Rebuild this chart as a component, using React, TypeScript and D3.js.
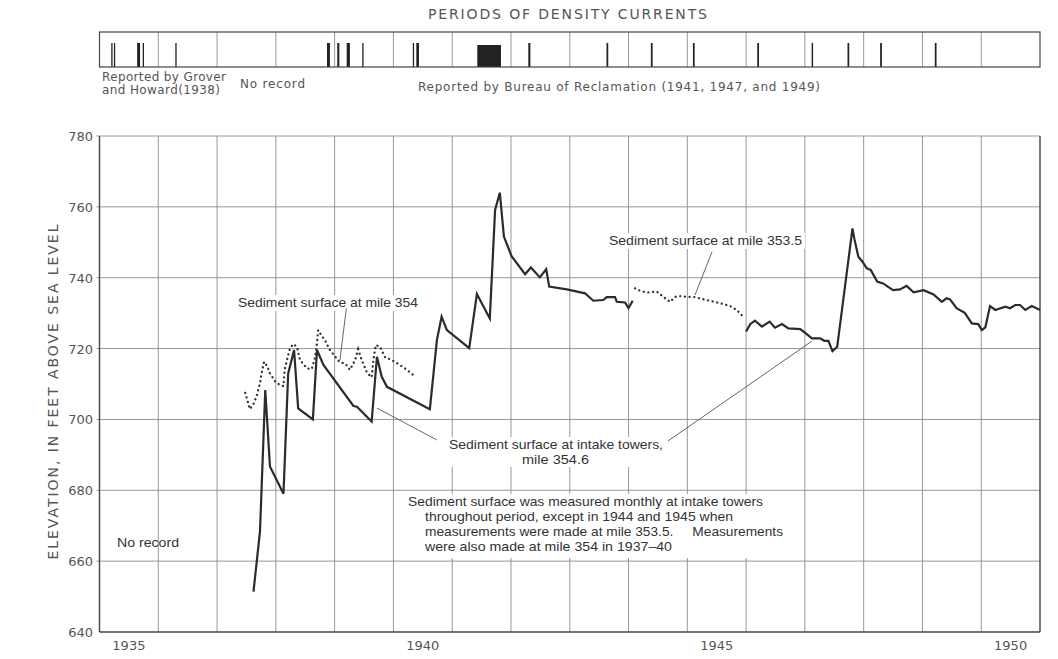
import React from 'react';
import * as d3 from 'd3';

// years 1935-1950, one cell per year
const years = d3.range(1935, 1952);
const yearLabels = [1935, 1940, 1945, 1950];
const elevTicks = [640, 660, 680, 700, 720, 740, 760, 780];

// periods of density currents [start, end] in years
const densityCurrents: [number, number][] = [
  [1935.2, 1935.22], [1935.245, 1935.265], [1935.64, 1935.69], [1935.735, 1935.755],
  [1936.29, 1936.31], [1938.87, 1938.92], [1939.045, 1939.08], [1939.205, 1939.26],
  [1939.47, 1939.49], [1940.33, 1940.35], [1940.39, 1940.435], [1941.427, 1941.83],
  [1942.295, 1942.33], [1943.625, 1943.655], [1944.38, 1944.41], [1945.095, 1945.125],
  [1946.19, 1946.22], [1947.115, 1947.14], [1947.725, 1947.755], [1948.28, 1948.31],
  [1949.21, 1949.24],
];

// sediment surface at intake towers, mile 354.6 (year, elevation)
const intakeA: [number, number][] = [
  [1937.62, 651.4], [1937.73, 668.3], [1937.82, 708.3], [1937.9, 686.7], [1938.13, 679.0],
  [1938.21, 713.0], [1938.31, 719.6], [1938.38, 703.1], [1938.63, 700.0], [1938.7, 719.6],
  [1938.81, 715.4], [1939.32, 703.8], [1939.38, 703.6], [1939.63, 699.4], [1939.72, 717.7],
  [1939.8, 712.1], [1939.89, 709.2], [1940.62, 702.9], [1940.74, 722.4], [1940.82, 729.0],
  [1940.91, 725.2], [1941.29, 720.1], [1941.42, 735.4], [1941.64, 728.5], [1941.73, 759.1],
  [1941.81, 764.0], [1941.88, 751.6], [1942.01, 746.1], [1942.24, 741.0], [1942.34, 742.9],
  [1942.49, 740.1], [1942.6, 742.4], [1942.65, 737.5], [1942.95, 736.7], [1943.26, 735.6],
  [1943.4, 733.5], [1943.57, 733.7], [1943.63, 734.5], [1943.77, 734.5], [1943.8, 733.2],
  [1943.94, 733.0], [1944.0, 731.4], [1944.07, 733.5],
];
const intakeB: [number, number][] = [
  [1946.0, 724.8], [1946.07, 726.9], [1946.15, 727.9], [1946.27, 726.2], [1946.4, 727.6],
  [1946.49, 725.9], [1946.61, 726.9], [1946.72, 725.7], [1946.92, 725.5], [1947.0, 724.5],
  [1947.12, 722.9], [1947.26, 722.9], [1947.33, 722.2], [1947.4, 722.2], [1947.47, 719.3],
  [1947.55, 720.5], [1947.81, 753.9], [1947.84, 751.1], [1947.91, 745.9], [1947.98, 744.5],
  [1948.05, 742.7], [1948.12, 742.2], [1948.23, 738.9], [1948.33, 738.4], [1948.5, 736.5],
  [1948.62, 736.7], [1948.73, 737.7], [1948.85, 735.9], [1949.02, 736.5], [1949.19, 735.3],
  [1949.33, 733.2], [1949.41, 734.2], [1949.47, 733.9], [1949.58, 731.4], [1949.72, 730.1],
  [1949.84, 727.1], [1949.95, 726.9], [1950.01, 725.2], [1950.07, 726.0], [1950.15, 732.0],
  [1950.24, 730.9], [1950.41, 731.8], [1950.49, 731.4], [1950.58, 732.3], [1950.66, 732.3],
  [1950.75, 730.9], [1950.86, 732.0], [1951.0, 730.9],
];

// sediment surface at mile 354 (1937-40)
const mile354: [number, number][] = [
  [1937.48, 707.5], [1937.53, 704.6], [1937.56, 702.9], [1937.62, 704.4], [1937.67, 706.4],
  [1937.73, 710.2], [1937.76, 713.2], [1937.8, 716.3], [1937.85, 715.1], [1937.9, 713.0],
  [1937.99, 710.7], [1938.07, 709.7], [1938.13, 709.4], [1938.15, 714.0], [1938.2, 717.5],
  [1938.24, 720.1], [1938.3, 721.3], [1938.36, 720.4], [1938.41, 716.8], [1938.53, 714.4],
  [1938.61, 714.2], [1938.67, 717.7], [1938.7, 721.5], [1938.72, 725.2], [1938.78, 723.6],
  [1938.84, 722.2], [1938.92, 719.6], [1939.01, 717.7], [1939.09, 716.1], [1939.18, 715.8],
  [1939.26, 714.0], [1939.35, 716.8], [1939.4, 719.8], [1939.46, 716.8], [1939.55, 713.2],
  [1939.63, 711.9], [1939.66, 716.8], [1939.7, 721.0], [1939.77, 720.5], [1939.86, 717.5],
  [1939.97, 716.8], [1940.11, 715.4], [1940.23, 714.0], [1940.34, 712.5],
];

// sediment surface at mile 353.5 (1944-45)
const mile3535: [number, number][] = [
  [1944.11, 737.0], [1944.2, 736.3], [1944.31, 735.8], [1944.48, 736.1], [1944.59, 734.6],
  [1944.71, 733.2], [1944.79, 734.6], [1944.88, 734.8], [1944.99, 734.6], [1945.13, 734.5],
  [1945.33, 733.7], [1945.56, 732.8], [1945.73, 732.0], [1945.84, 730.9], [1945.95, 729.0],
];

// leader lines, [year, elevation] pairs
const leaders: [number, number][][] = [
  [[1939.2, 731.4], [1939.09, 716.8]],
  [[1945.42, 747.3], [1945.13, 735.1]],
  [[1939.72, 703.2], [1940.74, 694.2]],
  [[1944.67, 693.9], [1947.12, 722.1]],
];

const W = 1058;
const H = 659;
const left = 99.5;
const right = 1040;
const top = 136;
const bottom = 632;
const barTop = 32;
const barBottom = 67;

const axisFont = '"DejaVu Sans", sans-serif';
const labelFont = '"Liberation Sans", Arial, sans-serif';
const ink = '#2b2b2b';
const grid = '#8c8c8c';

export default function App() {
  const x = d3.scaleLinear().domain([1935, 1951]).range([left, right]);
  const y = d3.scaleLinear().domain([640, 780]).range([bottom, top]);
  const line = d3
    .line<[number, number]>()
    .x(d => x(d[0]))
    .y(d => y(d[1]));

  const label = (
    txt: string,
    tx: number,
    ty: number,
    len: number,
    bg = true
  ) => (
    <g key={txt}>
      {bg && <rect x={tx - 3} y={ty - 12} width={len + 6} height={16} fill="#fff" />}
      <text
        x={tx}
        y={ty}
        textLength={len}
        lengthAdjust="spacingAndGlyphs"
        fontFamily={labelFont}
        fontSize={13}
        fill="#333"
        style={{ whiteSpace: 'pre' }}
      >
        {txt}
      </text>
    </g>
  );

  return (
    <svg
      width={W}
      height={H}
      style={{ position: 'absolute', left: 0, top: 0, background: '#fff' }}
    >
      {/* density currents strip */}
      <text
        x={428}
        y={19}
        textLength={279}
        fontFamily={axisFont}
        fontSize={14}
        fill="#555"
      >
        PERIODS OF DENSITY CURRENTS
      </text>
      {years.slice(1, -1).map(yr => (
        <line key={'bg' + yr} x1={x(yr)} x2={x(yr)} y1={barTop} y2={barBottom} stroke={grid} strokeWidth={0.9} />
      ))}
      {densityCurrents.map(([s, e], i) => (
        <rect
          key={'dc' + i}
          x={x(s)}
          y={e - s > 0.2 ? 45 : 43}
          width={Math.max(1.3, x(e) - x(s))}
          height={e - s > 0.2 ? barBottom - 45 : barBottom - 43}
          fill="#222"
        />
      ))}
      <rect
        x={x(1935)}
        y={barTop}
        width={x(1951) - x(1935)}
        height={barBottom - barTop}
        fill="none"
        stroke="#444"
        strokeWidth={1.2}
      />
      <g fontFamily={axisFont} fontSize={12} fill="#555">
        <text x={102} y={81} textLength={124}>Reported by Grover</text>
        <text x={102} y={94} textLength={118}>and Howard(1938)</text>
        <text x={240} y={88} textLength={65}>No record</text>
        <text x={418} y={91} textLength={402}>
          Reported by Bureau of Reclamation (1941, 1947, and 1949)
        </text>
      </g>

      {/* grid */}
      {elevTicks.slice(1).map(v => (
        <line key={'gy' + v} x1={left - 3} x2={right} y1={y(v)} y2={y(v)} stroke={grid} strokeWidth={0.9} />
      ))}
      {years.slice(1, -1).map(yr => (
        <line key={'gx' + yr} x1={x(yr)} x2={x(yr)} y1={top} y2={bottom} stroke={grid} strokeWidth={0.9} />
      ))}

      {/* axes frame */}
      <line x1={left} x2={left} y1={top} y2={bottom} stroke="#444" strokeWidth={1.4} />
      <line x1={left} x2={right} y1={bottom} y2={bottom} stroke="#444" strokeWidth={1.6} />
      <line x1={right} x2={right} y1={top} y2={bottom} stroke="#444" strokeWidth={1.4} />

      {/* tick labels */}
      <g fontFamily={axisFont} fontSize={13} fill="#555">
        {elevTicks.map(v => (
          <text key={'ty' + v} x={93} y={y(v) + 5} textAnchor="end">
            {v}
          </text>
        ))}
        {yearLabels.map(yr => (
          <text key={'tx' + yr} x={x(yr + 0.5)} y={650} textAnchor="middle">
            {yr}
          </text>
        ))}
      </g>
      <text
        transform="translate(58,392) rotate(-90)"
        textAnchor="middle"
        textLength={335}
        fontFamily={axisFont}
        fontSize={14}
        fill="#555"
      >
        ELEVATION, IN FEET ABOVE SEA LEVEL
      </text>

      {/* annotation backgrounds + text */}
      <rect x={443} y={437} width={228} height={30} fill="#fff" />
      <rect x={403} y={494} width={386} height={64} fill="#fff" />
      {label('Sediment surface at mile 354', 238, 307, 180)}
      {label('Sediment surface at mile 353.5', 609, 245, 193)}
      {label('Sediment surface at intake towers,', 449, 449, 214, false)}
      {label('mile 354.6', 522, 464, 67, false)}
      {label('Sediment surface was measured monthly at intake towers', 408, 506, 355, false)}
      {label('throughout period, except in 1944 and 1945 when', 425, 521, 308, false)}
      {label('measurements were made at mile 353.5.\u00a0\u00a0\u00a0\u00a0\u00a0Measurements', 425, 536, 358, false)}
      {label('were also made at mile 354 in 1937\u201340', 425, 551, 247, false)}
      {label('No record', 117, 547, 62, false)}

      {/* leader lines */}
      {leaders.map((l, i) => (
        <path key={'ld' + i} d={line(l) || ''} stroke="#555" strokeWidth={0.9} fill="none" />
      ))}

      {/* dotted series */}
      {[mile354, mile3535].map((s, i) => (
        <path
          key={'dot' + i}
          d={line(s) || ''}
          fill="none"
          stroke="#333"
          strokeWidth={2.3}
          strokeLinecap="round"
          strokeDasharray="0.1 4.6"
        />
      ))}

      {/* solid series */}
      {[intakeA, intakeB].map((s, i) => (
        <path
          key={'sol' + i}
          d={line(s) || ''}
          fill="none"
          stroke={ink}
          strokeWidth={2.2}
          strokeLinejoin="miter"
        />
      ))}
    </svg>
  );
}
